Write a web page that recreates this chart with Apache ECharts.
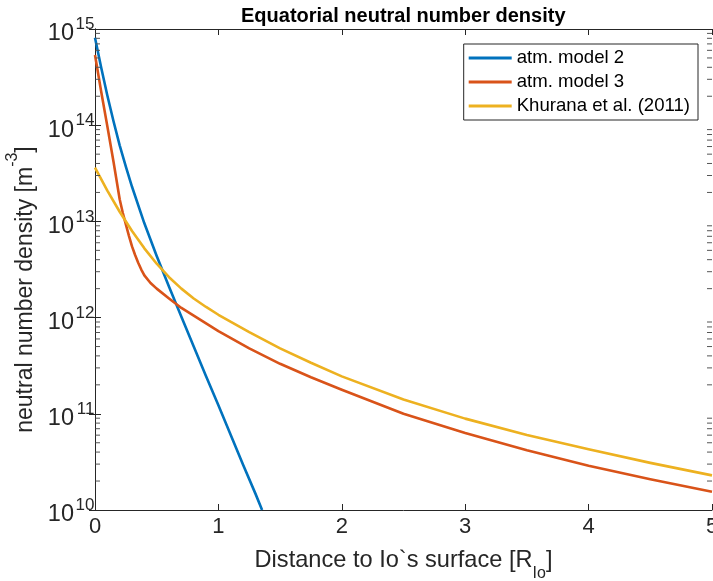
<!DOCTYPE html>
<html>
<head>
<meta charset="utf-8">
<script src="https://cdn.jsdelivr.net/npm/echarts@6/dist/echarts.min.js"></script>
<style>
html,body{margin:0;padding:0;background:#fff;}
#chart{width:713px;height:581px;}
</style>
</head>
<body>
<div id="chart"></div>
<script>
// ---- data ----
const titleText = 'Equatorial neutral number density';
const seriesNames = ['atm. model 2', 'atm. model 3', 'Khurana et al. (2011)'];
const seriesColors = ['#0072BD', '#D95319', '#EDB120'];

const xModel2 = [0, 0.05, 0.1, 0.15, 0.2, 0.25, 0.3, 0.4, 0.5, 0.6, 0.7, 0.8, 0.9, 1.0, 1.1, 1.2, 1.3, 1.354];
const nModel2 = [8.13e14, 3.98e14, 2.04e14, 1.10e14, 6.17e13, 3.72e13, 2.29e13, 9.55e12, 4.37e12, 2.09e12, 1.02e12, 5.01e11, 2.45e11, 1.23e11, 6.03e10, 2.95e10, 1.48e10, 1.0e10];

const xModel3 = [0, 0.05, 0.1, 0.15, 0.2, 0.225, 0.25, 0.275, 0.3, 0.325, 0.35, 0.375, 0.4, 0.45, 0.5, 0.6, 0.7, 0.8, 0.9, 1.0, 1.25, 1.5, 1.75, 2.0, 2.5, 3.0, 3.5, 4.0, 4.5, 5.0];
const nModel3 = [5.37e14, 2.24e14, 9.77e13, 4.17e13, 1.70e13, 1.23e13, 9.33e12, 7.08e12, 5.50e12, 4.47e12, 3.72e12, 3.16e12, 2.75e12, 2.29e12, 2.00e12, 1.58e12, 1.26e12, 1.05e12, 8.71e11, 7.24e11, 4.79e11, 3.31e11, 2.40e11, 1.78e11, 1.00e11, 6.31e10, 4.17e10, 2.88e10, 2.09e10, 1.55e10];

const xKhurana = [0, 0.1, 0.2, 0.3, 0.4, 0.5, 0.6, 0.7, 0.8, 0.9, 1.0, 1.25, 1.5, 1.75, 2.0, 2.5, 3.0, 3.5, 4.0, 4.5, 5.0];
const nKhurana = [3.63e13, 2.09e13, 1.26e13, 7.94e12, 5.25e12, 3.63e12, 2.63e12, 2.00e12, 1.58e12, 1.29e12, 1.07e12, 7.08e11, 4.79e11, 3.39e11, 2.45e11, 1.41e11, 8.91e10, 6.03e10, 4.27e10, 3.09e10, 2.29e10];

const xTicks = [0, 1, 2, 3, 4, 5];
const yDecades = [10, 11, 12, 13, 14, 15];
const minorMultipliers = [2, 3, 4, 5, 6, 7, 8, 9];

// ---- build ----
const pairs = (xs, ys) => xs.map((x, i) => [x, ys[i]]);
const minorTickValues = [];
for (let d = yDecades[0]; d < yDecades[yDecades.length - 1]; d++) {
  minorMultipliers.forEach(m => minorTickValues.push([0, m * Math.pow(10, d)]));
}

const AX = '#262626';
const FONT = '"Liberation Sans", Arial, Helvetica, sans-serif';

const chart = echarts.init(document.getElementById('chart'), null, {renderer: 'canvas'});

const lineSeries = [nModel2, nModel3, nKhurana].map((ys, i) => ({
  name: seriesNames[i],
  type: 'line',
  data: pairs([xModel2, xModel3, xKhurana][i], ys),
  showSymbol: false,
  symbol: 'none',
  smooth: false,
  lineStyle: {color: seriesColors[i], width: 2.6, join: 'round'},
  itemStyle: {color: seriesColors[i]},
  clip: true,
  z: 3
}));

const minorTickSeries = {
  type: 'custom',
  name: 'minorTicks',
  data: minorTickValues,
  silent: true,
  clip: false,
  z: 5,
  renderItem: function (params, api) {
    const p = api.coord([api.value(0), api.value(1)]);
    const cs = params.coordSys;
    const len = 5;
    return {
      type: 'group',
      children: [
        {type: 'line', shape: {x1: cs.x + 0.5, y1: p[1], x2: cs.x + len, y2: p[1]},
         style: {stroke: '#555', lineWidth: 1}},
        {type: 'line', shape: {x1: cs.x + cs.width - len, y1: p[1], x2: cs.x + cs.width, y2: p[1]},
         style: {stroke: '#555', lineWidth: 1}}
      ]
    };
  }
};

const logAxisBase = {type: 'log', logBase: 10, min: 1e10, max: 1e15, splitLine: {show: false}};

const option = {
  backgroundColor: '#ffffff',
  animation: false,
  textStyle: {fontFamily: FONT},
  title: {
    text: titleText,
    left: 241,
    top: 6,
    padding: 0,
    textStyle: {fontFamily: FONT, fontSize: 20, fontWeight: 'bold', color: '#000'}
  },
  grid: {left: 95, right: 1, top: 29, bottom: 71, containLabel: false, outerBoundsMode: 'none'},
  legend: {
    data: seriesNames.map(n => ({name: n, icon: 'rect'})),
    orient: 'vertical',
    right: 15,
    top: 44,
    padding: [4, 8, 4, 5],
    itemWidth: 43,
    itemHeight: 3,
    itemGap: 4,
    borderColor: AX,
    borderWidth: 1,
    borderRadius: 0,
    backgroundColor: '#fff',
    textStyle: {fontFamily: FONT, fontSize: 18.6, color: '#000', lineHeight: 20, padding: [0, 0, 0, 0]}
  },
  xAxis: [
    {
      type: 'value', min: 0, max: 5, interval: 1, position: 'bottom',
      name: '{n|Distance to Io`s surface [R}{sub|Io}{n|]}',
      nameLocation: 'middle', nameGap: 38,
      nameTextStyle: {
        rich: {
          n: {fontFamily: FONT, fontSize: 23.6, color: AX, lineHeight: 34, verticalAlign: 'top'},
          sub: {fontFamily: FONT, fontSize: 16, color: AX, lineHeight: 34, verticalAlign: 'bottom'}
        }
      },
      axisLine: {show: true, lineStyle: {color: AX, width: 1}},
      axisTick: {show: true, inside: true, length: 6, lineStyle: {color: AX}},
      axisLabel: {show: true, fontFamily: FONT, fontSize: 22, color: AX, margin: 6},
      splitLine: {show: false}
    },
    {
      type: 'value', min: 0, max: 5, interval: 1, position: 'top',
      axisLine: {show: true, lineStyle: {color: AX, width: 1}},
      axisTick: {show: true, inside: true, length: 6, lineStyle: {color: AX}},
      axisLabel: {show: false},
      splitLine: {show: false}
    }
  ],
  yAxis: [
    Object.assign({}, logAxisBase, {
      position: 'left',
      name: '{n|neutral number density [m}{s|-3}{n|]}',
      nameLocation: 'middle', nameGap: 50, nameRotate: 90,
      nameTextStyle: {
        padding: [0, 40, 0, 0],
        rich: {
          n: {fontFamily: FONT, fontSize: 23, color: AX, lineHeight: 32, verticalAlign: 'bottom'},
          s: {fontFamily: FONT, fontSize: 16, color: AX, lineHeight: 32, verticalAlign: 'top'}
        }
      },
      axisLine: {show: true, lineStyle: {color: AX, width: 1}},
      axisTick: {show: true, inside: true, length: 6, lineStyle: {color: AX}},
      axisLabel: {
        show: true, margin: 21,
        formatter: () => '{b|10}',
        rich: {b: {fontFamily: FONT, fontSize: 23.5, color: AX, lineHeight: 24, padding: [10, 0, 0, 0]}}
      }
    }),
    Object.assign({}, logAxisBase, {
      position: 'right',
      axisLine: {show: true, lineStyle: {color: AX, width: 1}},
      axisTick: {show: true, inside: true, length: 6, lineStyle: {color: AX}},
      axisLabel: {show: false}
    }),
    Object.assign({}, logAxisBase, {
      position: 'left', offset: 0,
      axisLine: {show: false},
      axisTick: {show: false},
      axisLabel: {
        show: true, margin: 0.5,
        formatter: v => '{s|' + Math.round(Math.log10(v)) + '}',
        rich: {s: {fontFamily: FONT, fontSize: 17, color: AX, lineHeight: 17, padding: [0, 0, 9, 0]}}
      }
    })
  ],
  series: lineSeries.concat([minorTickSeries])
};

chart.setOption(option);
</script>
</body>
</html>
